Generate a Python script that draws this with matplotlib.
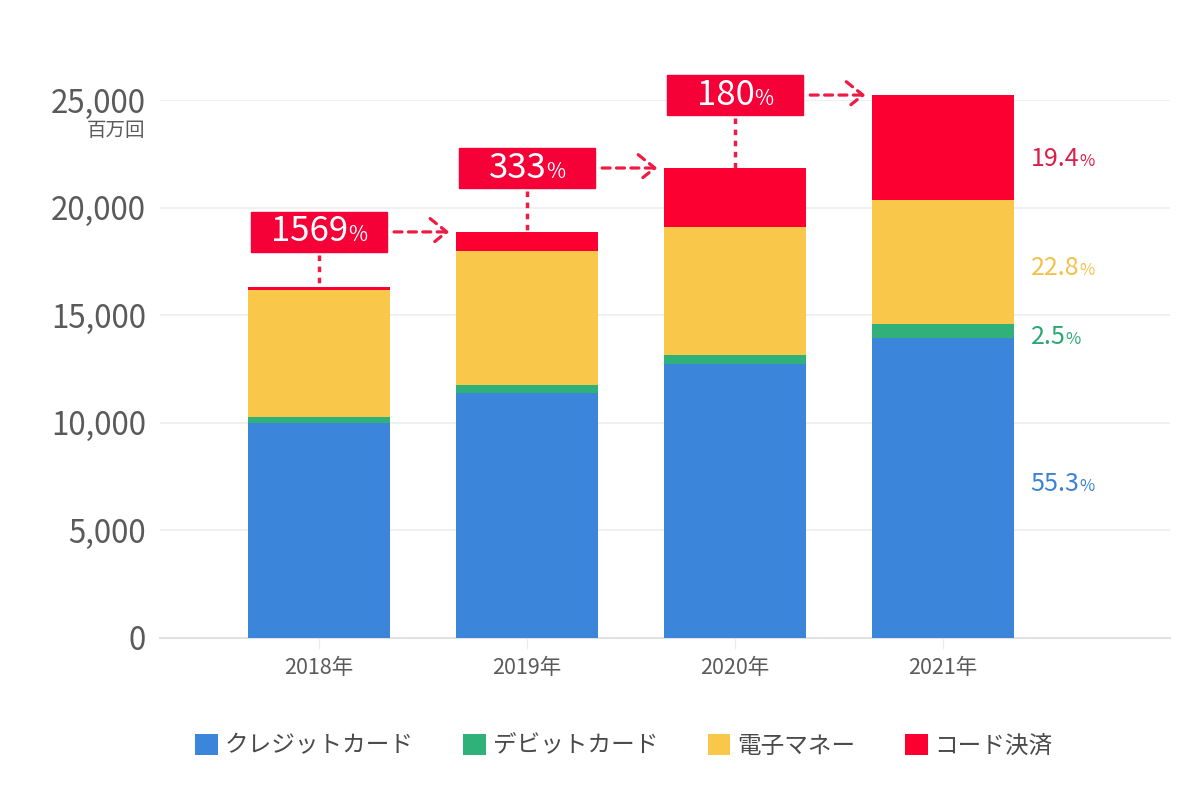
import numpy as np
import matplotlib.pyplot as plt
from matplotlib.patches import Rectangle
from matplotlib.offsetbox import TextArea, HPacker, AnnotationBbox

plt.rcParams['font.family'] = ['Noto Sans CJK JP', 'DejaVu Sans']

# data (百万回)
years = ['2018年', '2019年', '2020年', '2021年']
credit = [9990, 11390, 12730, 13950]
debit = [280, 370, 420, 630]
emoney = [5900, 6230, 5950, 5750]
code = [140, 880, 2740, 4900]
growth = ['1569', '333', '180']
share_2021 = ['55.3', '2.5', '22.8', '19.4']

names = ['クレジットカード', 'デビットカード', '電子マネー', 'コード決済']
colors = ['#3b86db', '#31b17a', '#f9c74a', '#fc0032']
label_colors = ['#3b82d6', '#2aa873', '#f3c14a', '#d8204a']
red = '#ec1c45'

fig = plt.figure(figsize=(12, 7.97), dpi=100)
ax = fig.add_axes([160 / 1200, 1 - 638 / 797, 1010 / 1200, 538 / 797])

x = np.arange(len(years))
w = 0.68
series = [credit, debit, emoney, code]
bottom = np.zeros(len(years))
handles = []
for vals, c, n in zip(series, colors, names):
    b = ax.bar(x, vals, w, bottom=bottom, color=c, label=n, zorder=3, clip_on=False)
    handles.append(b)
    bottom += np.array(vals)
totals = bottom.copy()

ax.set_xlim(-0.764, 4.09)
ax.set_ylim(0, 25000)
ax.set_yticks(range(0, 25001, 5000))
ax.set_yticklabels([f'{v:,}' for v in range(0, 25001, 5000)])
ax.set_xticks(x)
ax.set_xticklabels(years)
ax.grid(axis='y', color='#ededed', lw=1.2, zorder=0)
for s in ['top', 'right', 'left']:
    ax.spines[s].set_visible(False)
ax.spines['bottom'].set_color('#e2e2e2')
ax.spines['bottom'].set_linewidth(1.5)
ax.tick_params(axis='y', length=0, pad=10, labelsize=22.5, labelcolor='#5a5a5a')
ax.tick_params(axis='x', length=8, color='#ececec', pad=6, labelsize=15.5, labelcolor='#5a5a5a')

fig.text(145 / 1200, 1 - 131 / 797, '百万回', ha='right', va='center',
         fontsize=14, color='#5a5a5a')

# growth boxes and arrows
box_h = 1860
box_w = 0.655
for i, g in enumerate(growth):
    yc = totals[i + 1]
    ax.add_patch(Rectangle((x[i] - box_w / 2, yc - box_h / 2), box_w, box_h,
                           color='#f50037', zorder=4, clip_on=False))
    num = TextArea(g, textprops=dict(color='white', fontsize=25))
    pct = TextArea('%', textprops=dict(color='white', fontsize=15))
    pack = HPacker(children=[num, pct], align='baseline', pad=0, sep=0)
    ab = AnnotationBbox(pack, (x[i], yc), frameon=False, box_alignment=(0.5, 0.5),
                        zorder=5, annotation_clip=False)
    ax.add_artist(ab)
    # dotted stem down to bar
    ax.plot([x[i], x[i]], [yc - box_h / 2 - 150, totals[i]], color=red, lw=2.5,
            ls=(0, (1.6, 1.6)), zorder=4, clip_on=False)
    # dashed arrow to next bar
    ax.annotate('', xy=(x[i + 1] - w / 2 - 0.02, yc), xytext=(x[i] + box_w / 2 + 0.02, yc),
                arrowprops=dict(arrowstyle='->,head_length=0.5,head_width=0.4', color=red,
                                lw=2.3, ls=(0, (2.5, 2)), mutation_scale=24),
                zorder=4, annotation_clip=False)

# 2021 share labels (pixel nudges so they sit as in the original)
nudge = [3, -4, -4, -8]
bot = 0
for vals, s, c, dy in zip(series, share_2021, label_colors, nudge):
    v = vals[-1]
    ym = bot + v / 2
    num = TextArea(s, textprops=dict(color=c, fontsize=18))
    pct = TextArea('%', textprops=dict(color=c, fontsize=12))
    pack = HPacker(children=[num, pct], align='baseline', pad=0, sep=0)
    ab = AnnotationBbox(pack, (x[-1] + w / 2, ym), xybox=(12, dy), boxcoords='offset points',
                        frameon=False, box_alignment=(0, 0.5), zorder=5, annotation_clip=False)
    ax.add_artist(ab)
    bot += v

fig.legend(handles=handles, labels=names, loc='center', bbox_to_anchor=(0.52, 1 - 746 / 797),
           ncol=4, frameon=False, fontsize=17, labelcolor='#4a4a4a',
           handlelength=0.95, handleheight=0.95, handletextpad=0.3, columnspacing=2.1)

fig.savefig('out.png', dpi=100, facecolor='white')
